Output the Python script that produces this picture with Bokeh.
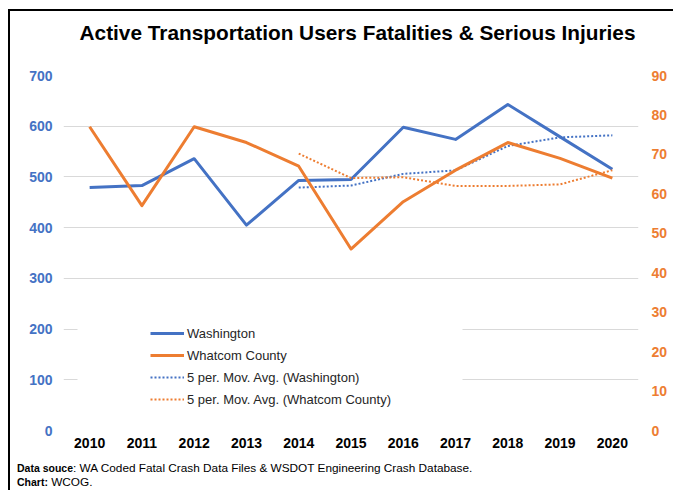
import html
from bokeh.plotting import figure
from bokeh.layouts import column
from bokeh.models import (Range1d, LinearAxis, FixedTicker, Label, BoxAnnotation,
                          Legend, LegendItem, Div)
from bokeh.embed import file_html
from bokeh.resources import INLINE

# ---- data ----
years = [2010, 2011, 2012, 2013, 2014, 2015, 2016, 2017, 2018, 2019, 2020]
washington = [479, 483, 536, 405, 493, 495, 598, 574, 643, 579, 515]
whatcom = [77, 57, 77, 73, 67, 46, 58, 66, 73, 69, 64]
ma_years = [2014, 2015, 2016, 2017, 2018, 2019, 2020]
washington_ma = [479, 483, 506, 513, 561, 578, 582]
whatcom_ma = [70.2, 64.0, 64.2, 62.0, 62.0, 62.4, 66.0]
left_ticks = [0, 100, 200, 300, 400, 500, 600, 700]
right_ticks = [0, 10, 20, 30, 40, 50, 60, 70, 80, 90]

title_text = "Active Transportation Users Fatalities & Serious Injuries"
series_names = ["Washington", "Whatcom County",
                "5 per. Mov. Avg. (Washington)", "5 per. Mov. Avg. (Whatcom County)"]
source_bold = "Data souce"
source_text = ": WA Coded Fatal Crash Data Files & WSDOT Engineering Crash Database."
chart_bold = "Chart:"
chart_text = " WCOG."

BLUE = "#4472C4"
ORANGE = "#ED7D31"
GRID = "#D9D9D9"
FONT = "Liberation Sans"

W = 663
H_HEAD, H_MAIN, H_FOOT = 40, 409, 30
FL, FR, FT, FB = 53, 628, 24, 379
X0, X1 = 2009.5, 2020.5
Y0, Y1 = 0, 700
PX = (FR - FL) / (X1 - X0)
PY = (FB - FT) / (Y1 - Y0)


def dx(rel):
    return X0 + rel / PX


def dy(rel):
    return Y1 - rel / PY


# ---- header (title); its frame is aligned with the main frame ----
head = figure(width=W, height=H_HEAD, x_range=Range1d(FL, FR), y_range=Range1d(H_HEAD, 0),
              output_backend="svg", toolbar_location=None, title=None,
              x_axis_type=None, y_axis_type=None,
              min_border_left=FL, min_border_right=W - FR, min_border_top=0,
              min_border_bottom=0)
head.outline_line_color = None
head.xgrid.grid_line_color = None
head.ygrid.grid_line_color = None
head.border_fill_color = "white"
head.add_layout(Label(x=347, y=21, text=title_text, text_align="center",
                      text_baseline="alphabetic", text_font=FONT, text_font_style="bold",
                      text_font_size="20.8px", text_color="#000000"))

# ---- main chart ----
p = figure(width=W, height=H_MAIN, x_range=Range1d(X0, X1), y_range=Range1d(Y0, Y1),
           output_backend="svg", toolbar_location=None, title=None,
           min_border_left=FL, min_border_right=W - FR,
           min_border_top=FT, min_border_bottom=H_MAIN - FB)
p.extra_y_ranges = {"right": Range1d(0, 90)}
p.outline_line_color = None
p.background_fill_color = "white"
p.border_fill_color = "white"

p.xaxis.ticker = FixedTicker(ticks=years)
p.yaxis.ticker = FixedTicker(ticks=left_ticks)
ra = LinearAxis(y_range_name="right", ticker=FixedTicker(ticks=right_ticks))
p.add_layout(ra, "right")
for ax in [p.xaxis[0], p.yaxis[0], ra]:
    ax.axis_line_color = None
    ax.major_tick_line_color = None
    ax.minor_tick_line_color = None
    ax.major_tick_out = 0
    ax.major_tick_in = 0
    ax.minor_tick_out = 0
    ax.major_label_text_font = FONT
    ax.major_label_text_font_style = "bold"
    ax.major_label_text_font_size = "14px"
p.xaxis.major_label_text_color = "#000000"
p.xaxis.major_label_standoff = 7
p.yaxis.major_label_text_color = BLUE
p.yaxis.major_label_standoff = 11
ra.major_label_text_color = ORANGE
ra.major_label_standoff = 13

p.xgrid.grid_line_color = None
p.ygrid.grid_line_color = GRID
p.ygrid.grid_line_width = 1

# white legend background (hides the grid lines behind the legend)
p.add_layout(BoxAnnotation(left=dx(14), right=dx(399), top=dy(230), bottom=dy(337),
                           fill_color="white", fill_alpha=1.0, line_color=None))

r_wa = p.line(years, washington, line_color=BLUE, line_width=3, line_join="round")
r_wa_ma = p.line(ma_years, washington_ma, line_color=BLUE, line_width=2, line_dash="2 2")
r_wc = p.line(years, whatcom, y_range_name="right", line_color=ORANGE, line_width=3,
              line_join="round")
r_wc_ma = p.line(ma_years, whatcom_ma, y_range_name="right", line_color=ORANGE,
                 line_width=2, line_dash="2 2")

legend = Legend(items=[LegendItem(label=series_names[0], renderers=[r_wa]),
                       LegendItem(label=series_names[1], renderers=[r_wc]),
                       LegendItem(label=series_names[2], renderers=[r_wa_ma]),
                       LegendItem(label=series_names[3], renderers=[r_wc_ma])])
legend.location = (87, 23)
legend.margin = 0
legend.padding = 6
legend.spacing = 6
legend.glyph_width = 34
legend.glyph_height = 16
legend.label_height = 16
legend.label_standoff = 3
legend.label_text_font = FONT
legend.label_text_font_size = "13px"
legend.label_text_color = "#262626"
legend.background_fill_alpha = 0
legend.border_line_color = None
p.add_layout(legend, "center")

# ---- footer (mixed bold / normal text) ----
foot_html = (
    '<div style="font-family:\'Liberation Sans\',Arial,sans-serif;font-size:11.8px;'
    'line-height:13.5px;padding-top:2px;padding-left:7px;color:#000;white-space:nowrap;">'
    f'<b style="font-size:10.5px;">{html.escape(source_bold)}</b>{html.escape(source_text)}<br>'
    f'<b style="font-size:10.5px;">{html.escape(chart_bold)}</b>{html.escape(chart_text)}'
    '</div>'
)
foot = Div(text=foot_html, width=W, height=H_FOOT, margin=0)

layout = column(head, p, foot, spacing=0,
                styles={"margin-left": "8px", "margin-top": "9px",
                        "border-left": "2px solid #000000",
                        "border-top": "2px solid #000000"})

open("out.html", "w").write(file_html(layout, INLINE))
